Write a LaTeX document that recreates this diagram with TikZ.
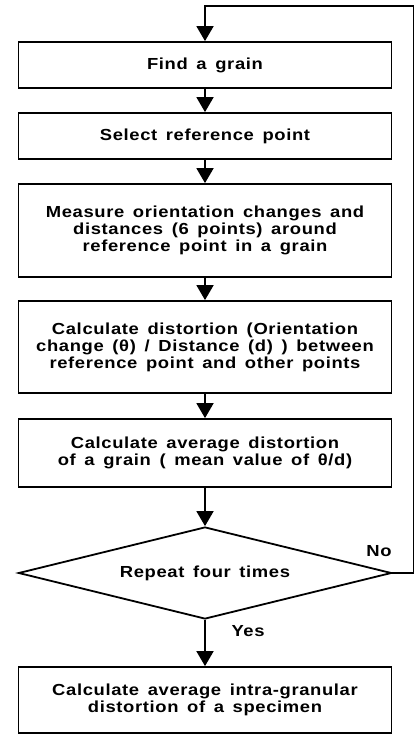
\documentclass[tikz,border=0pt]{standalone}
\usepackage{fontspec}
\setmainfont{Liberation Sans}[FakeStretch=1.15,LetterSpace=4,WordSpace=1.5]
\usetikzlibrary{shapes.geometric,arrows.meta}

\begin{document}
\begin{tikzpicture}[x=1pt,y=-1pt,
    box/.style={draw, line width=1.8pt, minimum width=373pt, inner sep=2pt,
        align=center, font=\fontsize{16}{17}\selectfont\bfseries},
    arr/.style={line width=1.8pt, -{Triangle[length=15pt,width=17pt]}},
    lbl/.style={font=\fontsize{16}{17}\selectfont\bfseries}]
    \useasboundingbox (0,0) rectangle (417,735);

    % Boxes
    \node[box, minimum height=46pt] (find) at (205,65) {Find a grain};
    \node[box, minimum height=46pt] (select) at (205,136) {Select reference point};
    \node[box, minimum height=93pt] (measure) at (205,230.5)
        {Measure orientation changes and\\distances (6 points) around\\reference point in a grain};
    \node[box, minimum height=92pt] (calc) at (205,347)
        {Calculate distortion (Orientation\\change (θ) / Distance (d) ) between\\reference point and other points};
    \node[box, minimum height=68pt] (average) at (205,453)
        {Calculate average distortion\\of a grain ( mean value of θ/d)};
    \node[box, shape=diamond, aspect=4, inner sep=0pt, minimum height=92pt] (repeat) at (205,573)
        {Repeat four times};
    \node[box, minimum height=66pt] (specimen) at (205,700)
        {Calculate average intra-granular\\distortion of a specimen};

    % Arrows
    \draw[arr] (find) -- (select);
    \draw[arr] (select) -- (measure);
    \draw[arr] (measure) -- (calc);
    \draw[arr] (calc) -- (average);
    \draw[arr] (average) -- (repeat);
    \draw[arr] (repeat) -- (specimen);
    \draw[arr] (repeat.east) -- ++(21,0) |- ([yshift=35pt]find.north) -- (find.north);

    \node[lbl] (no) at (379,551) {No};
    \node[lbl] (yes) at (248,631) {Yes};
\end{tikzpicture}
\end{document}
